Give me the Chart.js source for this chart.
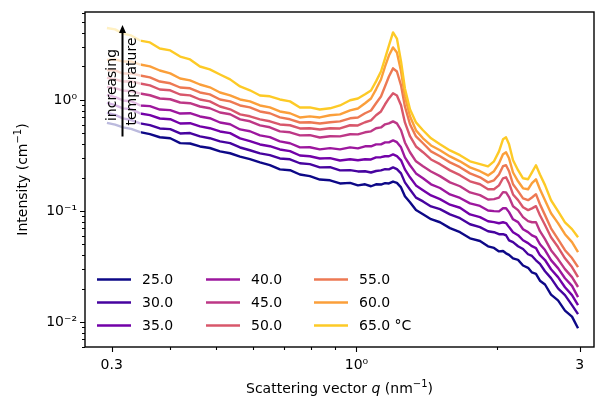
<!DOCTYPE html>
<html>
<head>
<meta charset="utf-8">
<script src="https://cdn.jsdelivr.net/npm/chart.js@4"></script>
<style>
  body { margin: 0; background: #fff; }
  canvas { display: block; }
</style>
</head>
<body>
<canvas id="myChart" width="595" height="399"></canvas>
<script>
// scattering vector q (nm^-1)
const q = [0.293,0.305,0.317,0.330,0.345,0.362,0.380,0.400,0.420,0.441,
  0.463,0.486,0.511,0.537,0.564,0.592,0.622,0.653,0.686,0.721,
  0.757,0.795,0.835,0.878,0.922,0.969,1.007,1.043,1.074,1.101,
  1.128,1.151,1.173,1.197,1.220,1.245,1.269,1.301,1.340,1.387,
  1.443,1.508,1.584,1.664,1.748,1.836,1.910,1.967,2.016,2.056,
  2.087,2.118,2.160,2.214,2.269,2.326,2.371,2.418,2.466,2.528,
  2.604,2.695,2.789,2.887,2.974];

// intensity (cm^-1), one array per temperature
const i25 = [0.621,0.598,0.566,0.548,0.512,0.492,0.461,0.452,0.408,0.405,0.381,0.369,0.344,0.331,0.309,0.293,0.274,0.259,0.237,0.233,0.213,0.206,0.192,0.189,0.177,0.179,0.170,0.174,0.167,0.174,0.173,0.178,0.177,0.184,0.179,0.163,0.136,0.120,0.102,0.0935,0.0844,0.0792,0.0701,0.0645,0.0568,0.0537,0.0481,0.0465,0.0433,0.0437,0.0416,0.0403,0.0374,0.0363,0.0323,0.0308,0.0280,0.0272,0.0236,0.0218,0.0177,0.0157,0.0127,0.0112,0.0088];
const i30 = [0.764,0.732,0.681,0.659,0.614,0.593,0.553,0.546,0.499,0.503,0.469,0.452,0.423,0.408,0.373,0.352,0.330,0.318,0.297,0.292,0.269,0.264,0.247,0.248,0.232,0.233,0.227,0.228,0.222,0.229,0.232,0.238,0.237,0.247,0.238,0.218,0.181,0.156,0.132,0.122,0.110,0.104,0.0932,0.0861,0.0760,0.0715,0.0657,0.0644,0.0618,0.0619,0.0605,0.0545,0.0525,0.0482,0.0455,0.0408,0.0394,0.0360,0.0334,0.0287,0.0249,0.0201,0.0175,0.0142,0.0118];
const i35 = [0.940,0.898,0.838,0.826,0.755,0.729,0.680,0.670,0.613,0.617,0.577,0.556,0.520,0.502,0.450,0.425,0.397,0.383,0.358,0.346,0.316,0.311,0.297,0.299,0.285,0.292,0.286,0.292,0.291,0.304,0.305,0.311,0.311,0.323,0.312,0.286,0.237,0.201,0.170,0.154,0.138,0.128,0.114,0.107,0.0932,0.0881,0.0809,0.0793,0.0776,0.0792,0.0779,0.0716,0.0645,0.0606,0.0545,0.0514,0.0482,0.0464,0.0400,0.0362,0.0299,0.0254,0.0206,0.0175,0.0142];
const i40 = [1.109,1.058,0.988,0.972,0.891,0.878,0.819,0.808,0.754,0.759,0.709,0.684,0.626,0.604,0.542,0.522,0.479,0.462,0.423,0.407,0.374,0.375,0.359,0.368,0.359,0.374,0.366,0.382,0.382,0.398,0.398,0.415,0.415,0.432,0.416,0.374,0.304,0.258,0.218,0.197,0.174,0.161,0.141,0.131,0.117,0.111,0.101,0.0998,0.0992,0.1058,0.1060,0.0977,0.0842,0.0794,0.0685,0.0646,0.0604,0.0581,0.0502,0.0445,0.0361,0.0306,0.0248,0.0212,0.0168];
const i45 = [1.309,1.274,1.214,1.197,1.141,1.101,1.029,1.013,0.947,0.934,0.872,0.841,0.770,0.743,0.667,0.642,0.589,0.567,0.521,0.511,0.479,0.481,0.459,0.471,0.469,0.491,0.489,0.511,0.521,0.556,0.565,0.603,0.614,0.641,0.615,0.533,0.414,0.338,0.280,0.253,0.227,0.206,0.181,0.167,0.147,0.139,0.127,0.128,0.132,0.148,0.147,0.1334,0.1103,0.1018,0.0880,0.0810,0.0792,0.0794,0.0658,0.0558,0.0444,0.0369,0.0300,0.0254,0.0207];
const i50 = [1.576,1.530,1.463,1.470,1.404,1.352,1.240,1.220,1.118,1.099,1.008,0.971,0.872,0.823,0.740,0.712,0.667,0.642,0.601,0.591,0.553,0.556,0.542,0.556,0.553,0.591,0.589,0.629,0.653,0.727,0.787,0.913,1.030,1.146,1.096,0.894,0.627,0.471,0.381,0.338,0.291,0.264,0.232,0.210,0.185,0.174,0.157,0.157,0.170,0.197,0.201,0.178,0.141,0.1252,0.1080,0.1018,0.1057,0.1106,0.0915,0.0747,0.0580,0.0474,0.0375,0.0313,0.0254];
const i55 = [1.860,1.844,1.727,1.733,1.657,1.595,1.463,1.410,1.293,1.271,1.166,1.122,1.009,0.970,0.891,0.857,0.787,0.758,0.695,0.669,0.626,0.629,0.613,0.629,0.640,0.683,0.695,0.758,0.803,0.932,1.073,1.325,1.624,1.922,1.800,1.352,0.873,0.603,0.469,0.407,0.344,0.311,0.274,0.248,0.218,0.201,0.181,0.189,0.213,0.253,0.258,0.228,0.174,0.151,0.1300,0.1252,0.1324,0.1417,0.1149,0.0918,0.0699,0.0559,0.0444,0.0377,0.0312];
const i60 = [2.287,2.314,2.213,2.221,2.081,2.004,1.838,1.733,1.557,1.499,1.376,1.298,1.166,1.099,1.009,0.971,0.891,0.857,0.787,0.758,0.695,0.711,0.695,0.727,0.740,0.806,0.837,0.932,1.030,1.245,1.526,2.004,2.507,2.967,2.667,1.807,1.073,0.712,0.532,0.451,0.389,0.352,0.310,0.280,0.247,0.228,0.209,0.228,0.269,0.324,0.337,0.298,0.222,0.185,0.160,0.157,0.178,0.193,0.157,0.1252,0.0954,0.0778,0.0618,0.0525,0.0426];
const i65 = [4.435,4.306,3.952,3.803,3.419,3.291,2.898,2.788,2.456,2.314,1.997,1.882,1.692,1.530,1.320,1.220,1.096,1.077,1.009,0.970,0.855,0.857,0.820,0.840,0.891,0.992,1.030,1.122,1.215,1.468,1.801,2.363,3.083,4.047,3.564,2.220,1.267,0.823,0.627,0.533,0.451,0.399,0.351,0.318,0.280,0.264,0.252,0.280,0.344,0.442,0.460,0.399,0.286,0.233,0.197,0.193,0.223,0.258,0.213,0.171,0.125,0.0997,0.0791,0.0687,0.0580];

const series = [i25, i30, i35, i40, i45, i50, i55, i60, i65];
const temps = ['25.0', '30.0', '35.0', '40.0', '45.0', '50.0', '55.0', '60.0', '65.0 °C'];
const colors = ['#0d0887', '#46039f', '#7201a8', '#9c179e', '#bd3786', '#d8576b', '#ed7953', '#fb9f3a', '#fdca26'];

// ticks
const xMajor = [0.3, 1, 3];
const xMajorLabels = ['0.3', '10⁰', '3'];
const xMinor = [0.4, 0.5, 0.6, 0.7, 0.8, 0.9, 2];
const yMajor = [0.01, 0.1, 1];
const yMajorLabels = ['10⁻²', '10⁻¹', '10⁰'];
const yMinor = [0.006, 0.007, 0.008, 0.009, 0.02, 0.03, 0.04, 0.05, 0.06, 0.07, 0.08, 0.09,
  0.2, 0.3, 0.4, 0.5, 0.6, 0.7, 0.8, 0.9, 2, 3, 4, 5, 6];

const FONT = '"DejaVu Sans", sans-serif';

function drawParts(ctx, parts, cx, cy) {
  let w = 0;
  parts.forEach(p => { ctx.font = p[1]; w += ctx.measureText(p[0]).width; });
  let x = cx - w / 2;
  parts.forEach(p => {
    ctx.font = p[1];
    ctx.fillText(p[0], x, cy + (p[2] || 0));
    x += ctx.measureText(p[0]).width;
  });
}

const extras = {
  id: 'extras',
  afterDatasetsDraw(chart) {
    const ctx = chart.ctx;
    const a = chart.chartArea;
    const xs = chart.scales.x, ys = chart.scales.y;
    ctx.save();
    // translucent box behind the annotation
    ctx.fillStyle = 'rgba(255,255,255,0.72)';
    ctx.fillRect(103, 20, 38, 121);

    // arrow
    ctx.strokeStyle = '#000';
    ctx.fillStyle = '#000';
    ctx.lineWidth = 2;
    ctx.beginPath();
    ctx.moveTo(122.5, 136.5);
    ctx.lineTo(122.5, 31);
    ctx.stroke();
    ctx.beginPath();
    ctx.moveTo(122.5, 25);
    ctx.lineTo(119, 33);
    ctx.lineTo(126, 33);
    ctx.closePath();
    ctx.fill();

    ctx.font = '14px ' + FONT;
    ctx.textAlign = 'center';
    ctx.textBaseline = 'middle';
    ctx.save();
    ctx.translate(112.5, 85);
    ctx.rotate(-Math.PI / 2);
    ctx.fillText('increasing', 0, 0);
    ctx.restore();
    ctx.save();
    ctx.translate(132.5, 81.5);
    ctx.rotate(-Math.PI / 2);
    ctx.fillText('temperature', 0, 0);
    ctx.restore();

    // legend, three columns
    const colX = [97, 206, 314];
    const rowY = [279.5, 302.5, 325.5];
    ctx.textAlign = 'left';
    ctx.textBaseline = 'middle';
    temps.forEach((t, i) => {
      const c = Math.floor(i / 3), r = i % 3;
      ctx.strokeStyle = colors[i];
      ctx.lineWidth = 2.6;
      ctx.beginPath();
      ctx.moveTo(colX[c], rowY[r]);
      ctx.lineTo(colX[c] + 34, rowY[r]);
      ctx.stroke();
      ctx.fillStyle = '#000';
      ctx.fillText(t, colX[c] + 45, rowY[r] + 0.5);
    });

    // tick marks
    ctx.strokeStyle = '#000';
    ctx.lineWidth = 1.1;
    ctx.beginPath();
    xMajor.forEach(v => { const px = Math.round(xs.getPixelForValue(v)) + 0.5; ctx.moveTo(px, a.bottom); ctx.lineTo(px, a.bottom + 5); });
    xMinor.forEach(v => { const px = Math.round(xs.getPixelForValue(v)) + 0.5; ctx.moveTo(px, a.bottom); ctx.lineTo(px, a.bottom + 3); });
    yMajor.forEach(v => { const py = Math.round(ys.getPixelForValue(v)) + 0.5; ctx.moveTo(a.left, py); ctx.lineTo(a.left - 5, py); });
    yMinor.forEach(v => { const py = Math.round(ys.getPixelForValue(v)) + 0.5; ctx.moveTo(a.left, py); ctx.lineTo(a.left - 3, py); });
    ctx.stroke();

    // frame
    ctx.lineWidth = 1.4;
    ctx.strokeRect(a.left, a.top, a.right - a.left, a.bottom - a.top);

    // axis titles
    ctx.fillStyle = '#000';
    ctx.textAlign = 'left';
    ctx.textBaseline = 'alphabetic';
    drawParts(ctx, [
      ['Scattering vector ', '14px ' + FONT],
      ['q', 'oblique 14px ' + FONT],
      [' (nm', '14px ' + FONT],
      ['−1', '10px ' + FONT, -6],
      [')', '14px ' + FONT]
    ], (a.left + a.right) / 2, 393);
    ctx.save();
    ctx.translate(27, (a.top + a.bottom) / 2);
    ctx.rotate(-Math.PI / 2);
    drawParts(ctx, [
      ['Intensity (cm', '14px ' + FONT],
      ['−1', '10px ' + FONT, -6],
      [')', '14px ' + FONT]
    ], 0, 0);
    ctx.restore();
    ctx.restore();
  }
};

const ctx = document.getElementById('myChart');

new Chart(ctx, {
  type: 'line',
  data: {
    datasets: series.map((s, i) => ({
      label: temps[i],
      data: q.map((x, j) => ({ x: x, y: s[j] })),
      borderColor: colors[i],
      borderWidth: 2.4,
      borderJoinStyle: 'round',
      pointRadius: 0,
      fill: false,
      tension: 0,
      order: series.length - 1 - i
    }))
  },
  options: {
    responsive: false,
    animation: false,
    devicePixelRatio: 1,
    layout: { padding: { top: 12, right: 1, left: 0, bottom: 0 } },
    plugins: { legend: { display: false }, tooltip: { enabled: false } },
    scales: {
      x: {
        type: 'logarithmic',
        min: 0.263,
        max: 3.217,
        afterBuildTicks: s => { s.ticks = xMajor.map(v => ({ value: v })); },
        afterFit: s => { s.height = 52; },
        ticks: {
          autoSkip: false,
          maxRotation: 0,
          padding: 4.5,
          color: '#000',
          font: { family: FONT, size: 14 },
          callback: (v, i) => xMajorLabels[i]
        },
        grid: { drawOnChartArea: false, tickLength: 5, tickColor: 'rgba(0,0,0,0)' },
        border: { display: false }
      },
      y: {
        type: 'logarithmic',
        min: 0.00597,
        max: 6.18,
        afterBuildTicks: s => { s.ticks = yMajor.map(v => ({ value: v })); },
        afterFit: s => { s.width = 85; },
        ticks: {
          autoSkip: false,
          padding: 3,
          color: '#000',
          font: { family: FONT, size: 14 },
          callback: (v, i) => yMajorLabels[i]
        },
        grid: { drawOnChartArea: false, tickLength: 5, tickColor: 'rgba(0,0,0,0)' },
        border: { display: false }
      }
    }
  },
  plugins: [extras]
});
</script>
</body>
</html>
